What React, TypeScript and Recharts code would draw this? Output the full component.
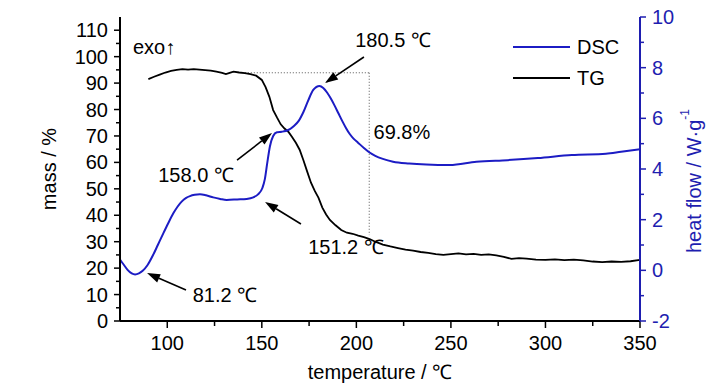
import {
  ComposedChart,
  Legend,
  Line,
  ReferenceDot,
  ReferenceLine,
  XAxis,
  YAxis,
} from "recharts";

// TG curve (mass %)
const tgTemp = [
  90, 93, 96, 99, 102, 105, 108, 111, 114, 117, 120, 123, 126, 129, 131, 133, 135, 138, 141, 144,
  147, 150, 152, 154, 156, 158, 160, 162, 164, 166, 168, 170, 172, 174, 176, 178, 180, 182, 184, 186,
  189, 192, 195, 198, 201, 204, 207, 210, 214, 218, 222, 226, 230, 234, 238, 242, 246, 250, 254, 258,
  262, 266, 270, 274, 278, 282, 286, 290, 295, 300, 305, 310, 315, 320, 325, 330, 335, 340, 345, 350,
];
const tgMass = [
  91.5, 92.4, 93.2, 94.0, 94.6, 95.0, 95.3, 95.1, 95.3, 95.1, 94.9, 94.7, 94.3, 93.9, 93.4, 93.9, 94.3, 94.0, 93.8, 93.4,
  92.8, 91.2, 88.5, 84.8, 79.8, 77.0, 74.4, 72.8, 71.6, 69.6, 67.4, 64.8, 60.8, 56.5, 52.3, 49.2, 46.6, 42.9, 40.3, 38.2,
  36.2, 34.4, 33.4, 33.0, 32.3, 31.7, 31.0, 30.0, 28.9, 28.2, 27.6, 27.0, 26.6, 26.1, 25.8, 25.3, 25.0, 25.3, 25.6, 25.2,
  25.4, 25.0, 25.2, 24.8, 24.3, 23.5, 23.8, 23.6, 23.2, 23.1, 23.3, 23.0, 23.2, 22.9, 22.5, 22.3, 22.5, 22.4, 22.6, 23.1,
];

// DSC curve (heat flow W/g)
const dscTemp = [
  75, 77, 79, 81.2, 83, 85, 87, 89.5, 92.6, 95, 97.9, 100.5, 103.2, 105.5, 107.6, 110, 112, 114.5, 117.3, 120.5,
  124.3, 128, 131.4, 137, 142, 145.5, 148, 150.3, 151.6, 152.8, 154.3, 156, 158, 160.5, 164, 167, 169.5, 172, 174.5, 177.2,
  180.5, 182.5, 184.5, 186.5, 188.5, 190.5, 192.5, 194.5, 196.5, 198.5, 201, 204, 207, 210, 214, 219.4, 228, 237, 249.4, 263.5,
  280, 296, 314, 332, 340, 350,
];
const dscHeat = [
  0.42, 0.22, 0.02, -0.12, -0.16, -0.12, -0.02, 0.2, 0.62, 1.0, 1.46, 1.86, 2.25, 2.52, 2.71, 2.86, 2.93, 2.98, 3.0, 2.96,
  2.88, 2.82, 2.78, 2.8, 2.82, 2.88, 3.0, 3.25, 3.6, 4.2, 4.9, 5.3, 5.45, 5.47, 5.54, 5.7, 5.9, 6.25, 6.7, 7.12,
  7.28, 7.2, 7.02, 6.78, 6.5, 6.2, 5.9, 5.62, 5.38, 5.2, 5.03, 4.83, 4.65, 4.52, 4.4, 4.29, 4.22, 4.18, 4.16, 4.29,
  4.35, 4.43, 4.55, 4.6, 4.68, 4.78,
];

const xTicks = [100, 125, 150, 175, 200, 225, 250, 275, 300, 325, 350];
const massTicks = [0, 5, 10, 15, 20, 25, 30, 35, 40, 45, 50, 55, 60, 65, 70, 75, 80, 85, 90, 95, 100, 105, 110];
const heatTicks = [-2, -1, 0, 1, 2, 3, 4, 5, 6, 7, 8, 9, 10];

// mass-loss box (temperature, mass)
const lossBoxTemp = [141, 206.8];
const lossBoxMass = [93.9, 32.5];

// annotation arrows on the heat-flow axis: [fromT, fromH, toT, toH]
const arrows = [
  [204, 8.42, 183.4, 7.39],
  [136.9, 4.35, 155.4, 5.42],
  [170.7, 1.83, 151.7, 2.7],
  [109.9, -0.78, 89.3, -0.11],
];
const notes = [
  { text: "180.5 ℃", t: 219.4, h: 9.09 },
  { text: "158.0 ℃", t: 115.2, h: 3.76 },
  { text: "151.2 ℃", t: 194.5, h: 0.92 },
  { text: "81.2 ℃", t: 130.5, h: -0.98 },
  { text: "69.8%", t: 224.1, h: 5.46 },
  { text: "exo↑", t: 93, h: 8.82 },
];

const tgData = tgTemp.map((t, i) => ({ t, mass: tgMass[i] }));
const dscData = dscTemp.map((t, i) => ({ t, heat: dscHeat[i] }));

const FONT = "'Liberation Sans', Arial, sans-serif";
const BLUE = "#1c1cc4";
const AXIS_BLUE = "#1e1eb0";
const TICK = 6;
const GAP = 6;

function LeftTick({ x, y, payload }: any) {
  const v = payload.value;
  const major = v % 10 === 0;
  const ax = x + TICK + GAP;
  return (
    <g>
      <line x1={ax - (major ? 6 : 4)} x2={ax} y1={y} y2={y} stroke="#000" strokeWidth={1.5} />
      {major && (
        <text x={x} y={y} textAnchor="end" dominantBaseline="central" fontSize={20} fontFamily={FONT} fill="#000">
          {v}
        </text>
      )}
    </g>
  );
}

function RightTick({ x, y, payload }: any) {
  const v = payload.value;
  const major = v % 2 === 0;
  const ax = x - TICK - GAP;
  return (
    <g>
      <line x1={ax} x2={ax + (major ? 6 : 4)} y1={y} y2={y} stroke={AXIS_BLUE} strokeWidth={1.5} />
      {major && (
        <text x={x} y={y} textAnchor="start" dominantBaseline="central" fontSize={20} fontFamily={FONT} fill={AXIS_BLUE}>
          {v}
        </text>
      )}
    </g>
  );
}

function BottomTick({ x, y, payload }: any) {
  const v = payload.value;
  const major = v % 50 === 0;
  const ay = y - TICK - 9;
  return (
    <g>
      <line x1={x} x2={x} y1={ay} y2={ay + (major ? 7 : 5)} stroke="#000" strokeWidth={1.5} />
      {major && (
        <text x={x} y={y} dy="0.71em" textAnchor="middle" fontSize={20} fontFamily={FONT} fill="#000">
          {v}
        </text>
      )}
    </g>
  );
}

function Arrow({ x1, y1, x2, y2 }: any) {
  const a = Math.atan2(y2 - y1, x2 - x1);
  const len = 13;
  const w = 4.5;
  const bx = x2 - len * Math.cos(a);
  const by = y2 - len * Math.sin(a);
  const px = -Math.sin(a) * w;
  const py = Math.cos(a) * w;
  return (
    <g>
      <line x1={x1} y1={y1} x2={bx} y2={by} stroke="#000" strokeWidth={1.6} />
      <polygon points={`${x2},${y2} ${bx + px},${by + py} ${bx - px},${by - py}`} fill="#000" />
    </g>
  );
}

function legendContent() {
  return (
    <svg width={120} height={70}>
      <line x1={8} x2={65} y1={17} y2={17} stroke={BLUE} strokeWidth={2} />
      <text x={72} y={17} dominantBaseline="central" fontSize={20} fontFamily={FONT} fill="#000">DSC</text>
      <line x1={8} x2={65} y1={48} y2={48} stroke="#000" strokeWidth={2} />
      <text x={72} y={48} dominantBaseline="central" fontSize={20} fontFamily={FONT} fill="#000">TG</text>
    </svg>
  );
}

export default function App() {
  return (
    <div style={{ width: 728, height: 390, background: "#fff" }}>
      <style>{"body{margin:0}"}</style>
      <ComposedChart width={728} height={390} margin={{ top: 17, right: 28, bottom: 29, left: 40 }}>
        <XAxis
          type="number"
          dataKey="t"
          domain={[75, 350]}
          allowDataOverflow
          ticks={xTicks}
          interval={0}
          tickSize={TICK}
          tickMargin={9}
          tickLine={false}
          tick={<BottomTick />}
          height={40}
          axisLine={{ stroke: "#000", strokeWidth: 2 }}
          label={{
            content: ({ viewBox }: any) => (
              <text
                x={viewBox.x + viewBox.width / 2}
                y={viewBox.y + 51}
                textAnchor="middle"
                dominantBaseline="central"
                fontSize={20}
                fontFamily={FONT}
                fill="#000"
              >
                temperature / ℃
              </text>
            ),
          }}
        />
        <XAxis
          xAxisId="top"
          orientation="top"
          type="number"
          dataKey="t"
          domain={[75, 350]}
          allowDataOverflow
          tick={false}
          tickLine={false}
          height={0}
          axisLine={{ stroke: "#000", strokeWidth: 2 }}
        />
        <YAxis
          yAxisId="mass"
          domain={[0, 115]}
          allowDataOverflow
          ticks={massTicks}
          interval={0}
          tickSize={TICK}
          tickMargin={GAP}
          tickLine={false}
          tick={<LeftTick />}
          width={80}
          axisLine={{ stroke: "#000", strokeWidth: 2 }}
          label={{
            content: ({ viewBox }: any) => {
              const cx = viewBox.x + 9;
              const cy = viewBox.y + viewBox.height / 2;
              return (
                <text
                  x={cx}
                  y={cy}
                  transform={`rotate(-90, ${cx}, ${cy})`}
                  textAnchor="middle"
                  dominantBaseline="central"
                  fontSize={20}
                  fontFamily={FONT}
                  fill="#000"
                >
                  mass / %
                </text>
              );
            },
          }}
        />
        <YAxis
          yAxisId="dsc"
          orientation="right"
          domain={[-2, 10]}
          allowDataOverflow
          ticks={heatTicks}
          interval={0}
          tickSize={TICK}
          tickMargin={GAP}
          tickLine={false}
          tick={<RightTick />}
          width={60}
          axisLine={{ stroke: AXIS_BLUE, strokeWidth: 2 }}
          label={{
            content: ({ viewBox }: any) => {
              const cx = viewBox.x + 54;
              const cy = viewBox.y + viewBox.height / 2 + 12;
              return (
                <text
                  x={cx}
                  y={cy}
                  transform={`rotate(-90, ${cx}, ${cy})`}
                  textAnchor="middle"
                  dominantBaseline="central"
                  fontSize={20}
                  fontFamily={FONT}
                  fill={AXIS_BLUE}
                >
                  heat flow / W·g
                  <tspan fontSize={12} dy={-9}>-1</tspan>
                </text>
              );
            },
          }}
        />
        <Legend layout="vertical" align="center" verticalAlign="middle" content={legendContent} wrapperStyle={{ left: 505, top: 30, width: 120 }} />

        <ReferenceLine
          yAxisId="mass"
          segment={[
            { x: lossBoxTemp[0], y: lossBoxMass[0] },
            { x: lossBoxTemp[1], y: lossBoxMass[0] },
          ]}
          stroke="#555"
          strokeWidth={1}
          strokeDasharray="1 2"
        />
        <ReferenceLine
          yAxisId="mass"
          segment={[
            { x: lossBoxTemp[1], y: lossBoxMass[0] },
            { x: lossBoxTemp[1], y: lossBoxMass[1] },
          ]}
          stroke="#555"
          strokeWidth={1}
          strokeDasharray="1 2"
        />

        <Line
          yAxisId="mass"
          data={tgData}
          dataKey="mass"
          type="linear"
          stroke="#000"
          strokeWidth={1.8}
          dot={false}
          activeDot={false}
          isAnimationActive={false}
        />
        <Line
          yAxisId="dsc"
          data={dscData}
          dataKey="heat"
          type="monotone"
          stroke={BLUE}
          strokeWidth={2}
          dot={false}
          activeDot={false}
          isAnimationActive={false}
        />

        {arrows.map((a, i) => (
          <ReferenceLine
            key={`arrow-${i}`}
            yAxisId="dsc"
            segment={[
              { x: a[0], y: a[1] },
              { x: a[2], y: a[3] },
            ]}
            ifOverflow="visible"
            shape={(p: any) => <Arrow {...p} />}
          />
        ))}
        {notes.map((n, i) => (
          <ReferenceDot
            key={`note-${i}`}
            yAxisId="dsc"
            x={n.t}
            y={n.h}
            r={0}
            ifOverflow="visible"
            shape={(p: any) => (
              <text x={p.cx} y={p.cy} textAnchor="middle" dominantBaseline="central" fontSize={20} fontFamily={FONT} fill="#000">
                {n.text}
              </text>
            )}
          />
        ))}
      </ComposedChart>
    </div>
  );
}
